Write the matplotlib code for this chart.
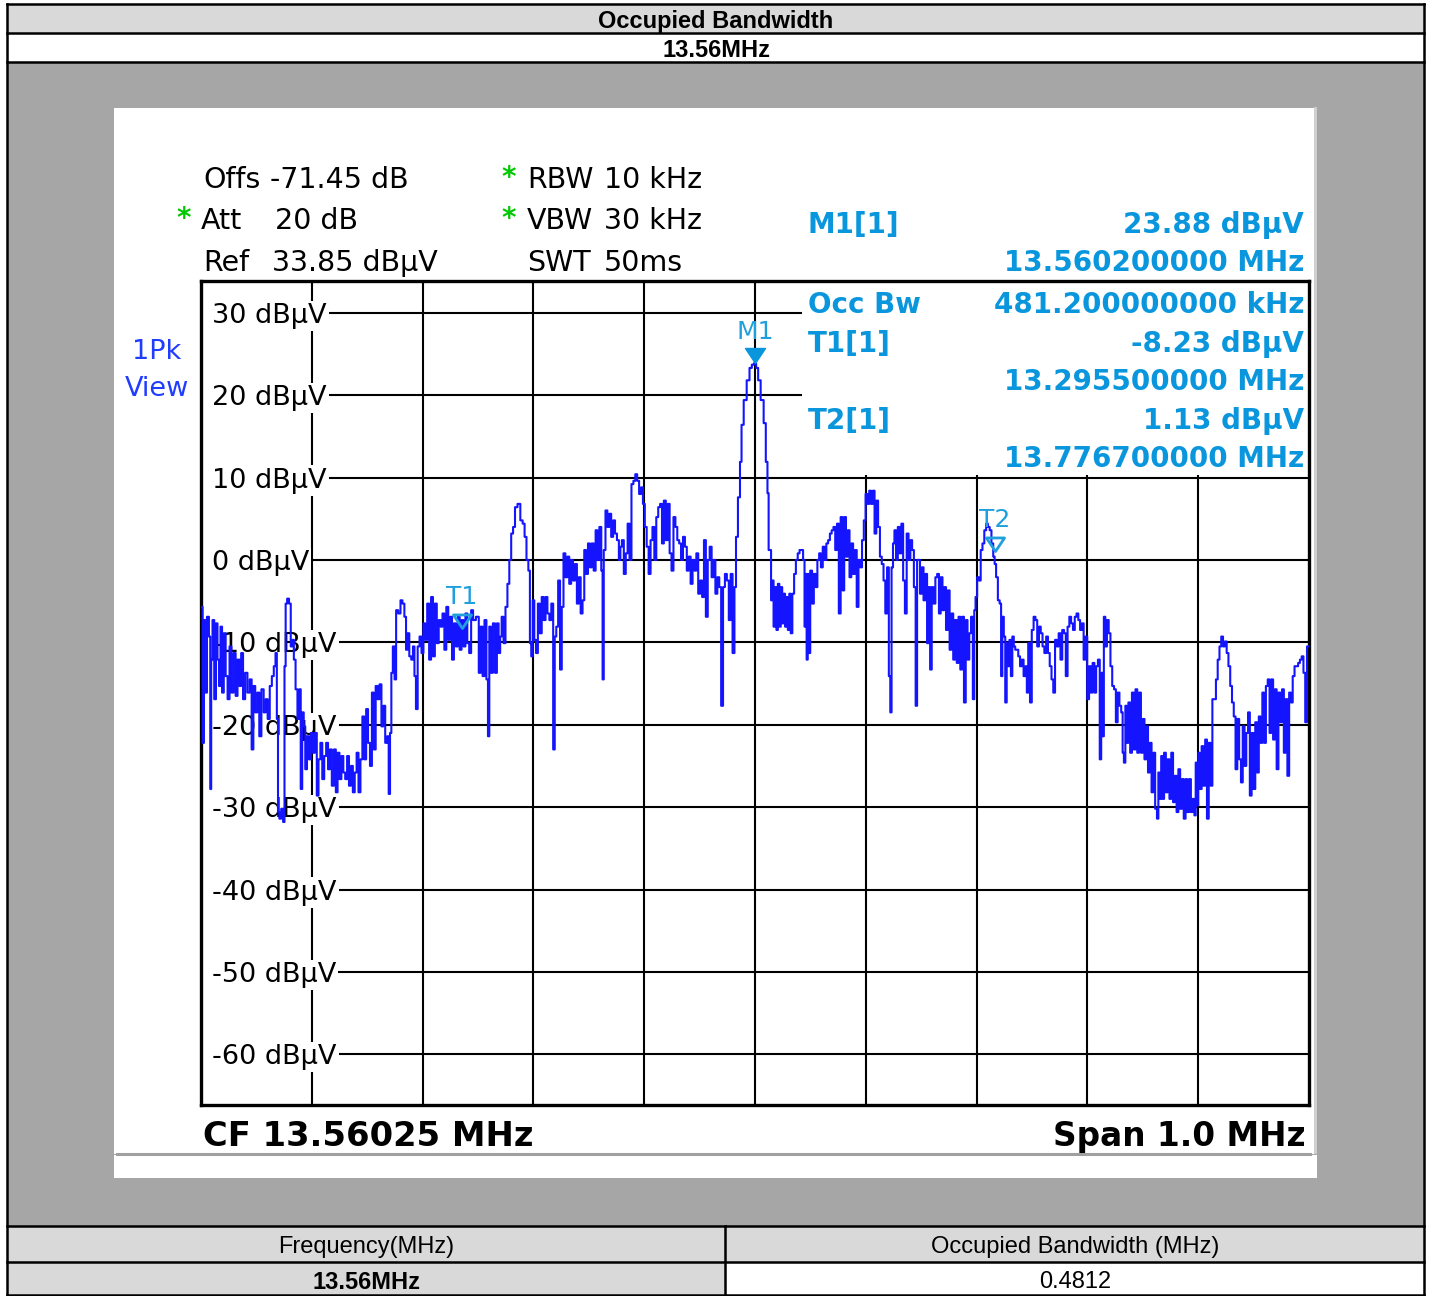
import numpy as np
import matplotlib.pyplot as plt
import matplotlib.transforms as mtransforms
from matplotlib.patches import Rectangle
from matplotlib.path import Path

# analyzer settings
center_mhz = 13.56025
span_mhz = 1.0
ref_level = 33.85
range_db = 100.0
level_ticks = [30, 20, 10, 0, -10, -20, -30, -40, -50, -60]

# trace, split in three parts: offset from CF in kHz, level in dBuV
left_offsets_khz = [
    -498.9, -498.2, -496.5, -495.5, -493.7, -492.0, -491.3, -490.3, -488.9, -487.2,
    -485.8, -484.4, -483.1, -481.7, -480.3, -478.6, -476.9, -475.1, -473.4, -471.7,
    -469.6, -467.9, -466.2, -464.4, -463.1, -461.0, -459.3, -456.9, -455.2, -453.4,
    -452.1, -450.0, -448.3, -446.5, -444.5, -442.4, -440.7, -439.0, -436.9, -435.2,
    -433.4, -432.1, -431.0, -430.0, -428.6, -426.6, -425.2, -424.1, -423.1, -421.4,
    -419.7, -418.3, -416.9, -415.5, -413.8, -412.1, -410.7, -409.3, -408.0, -406.6,
    -405.2, -403.5, -401.8, -400.0, -398.3, -396.2, -394.8, -393.1, -391.4, -389.7,
    -387.9, -386.2, -384.5, -382.8, -381.1, -379.0, -377.6, -375.9, -374.2, -372.4,
    -370.7, -369.0, -367.3, -365.6, -363.8, -362.1, -360.4, -358.7, -357.0, -355.2,
    -353.5, -351.8, -350.1, -348.4, -346.6, -344.9, -343.2, -341.5, -339.8, -338.0,
    -336.3, -334.6, -332.9, -331.1, -330.1, -328.7, -327.7, -326.0, -324.6, -323.2,
    -320.8, -319.1, -317.3, -315.6, -314.3, -312.9, -311.1, -309.4, -308.0, -306.7,
    -305.3, -303.6, -301.9, -300.1, -298.4, -296.7, -295.0, -293.2, -291.5, -289.8,
    -288.1, -286.3, -284.6, -282.9, -281.2, -279.5, -277.7, -276.0, -274.3, -272.6,
    -270.9, -269.1, -267.4, -265.7, -264.0, -262.2, -260.5, -258.8, -257.1, -255.3,
    -253.6, -250.2, -248.4, -246.7, -245.0, -243.3, -241.5, -240.5, -239.1, -237.4,
    -235.7, -233.6, -232.3, -230.5, -229.5, -227.8, -226.1, -224.3, -222.6, -220.9,
    -219.2, -217.5, -215.7, -213.0, -210.6, -208.8, -207.1, -205.4, -203.7, -202.6,
    -201.3, -199.9, -198.5, -196.8, -195.1, -193.4, -191.6, -189.9, -188.2, -186.5,
    -184.7, -183.0, -181.3, -180.2, -178.5, -176.8, -175.1, -173.7, -172.0, -170.3,
    -168.5, -166.8, -165.1, -163.4, -161.6, -159.9, -158.2, -156.5, -154.8, -153.4,
    -151.6, -149.9, -148.2, -146.5, -144.7, -143.0, -141.3, -139.6, -137.9, -137.2,
    -135.8, -134.1, -132.4, -130.7, -128.9, -127.2, -125.5, -123.7, -122.0, -121.0,
    -119.3, -117.5, -115.8, -114.1, -112.4, -110.6, -108.9, -107.2, -105.5, -103.7,
    -102.0, -100.3, -98.6, -96.9, -95.1, -93.4, -91.7, -90.0, -88.2, -86.5,
    -84.8, -83.1, -81.4, -79.6, -77.9, -76.2, -74.5, -72.7, -71.0, -69.3,
    -67.6, -65.9, -64.1, -62.4, -60.7, -59.0, -57.2, -55.5, -53.8, -52.1,
    -50.4, -48.6, -46.9, -45.2, -43.5, -41.8, -40.0, -38.3, -36.6, -34.9,
    -33.1, -31.4, -29.7, -28.0, -26.3, -24.5, -22.8, -21.1, -19.4, -17.7,
    -16.6, -14.2,
]
left_levels = [
    -5.7, -22.2, -7.3, -16.1, -6.9, -9.3, -27.8, -12.1, -7.3, -16.9,
    -7.7, -12.1, -15.3, -8.1, -16.1, -8.9, -14.1, -16.9, -10.5, -16.1,
    -11.3, -16.5, -12.1, -15.3, -11.3, -16.9, -13.7, -16.1, -14.5, -23.0,
    -15.3, -18.5, -16.1, -21.4, -15.7, -18.5, -16.9, -19.3, -15.3, -14.1,
    -12.9, -11.3, -19.3, -30.6, -31.4, -30.2, -31.8, -12.9, -5.3, -4.7,
    -5.3, -10.5, -9.7, -12.1, -15.7, -19.3, -15.7, -27.8, -18.5, -20.2,
    -25.4, -21.4, -24.2, -21.0, -23.4, -21.0, -28.6, -24.2, -22.2, -26.6,
    -23.8, -22.2, -25.4, -23.0, -27.4, -23.0, -28.2, -23.4, -26.6, -23.8,
    -25.8, -26.6, -23.8, -27.4, -25.0, -28.2, -25.8, -23.4, -28.2, -24.2,
    -19.0, -24.2, -18.1, -22.2, -25.0, -16.1, -23.0, -15.3, -16.9, -15.1,
    -20.2, -17.7, -22.2, -21.4, -28.4, -21.0, -13.7, -10.5, -14.5, -6.1,
    -6.5, -4.9, -5.3, -6.9, -10.9, -8.9, -11.7, -12.1, -10.5, -14.1,
    -18.1, -10.5, -9.3, -11.3, -7.7, -9.7, -5.3, -12.1, -4.5, -11.7,
    -5.3, -10.1, -7.3, -8.1, -6.5, -10.9, -5.7, -9.7, -6.9, -12.1,
    -7.7, -10.5, -6.9, -10.9, -7.3, -10.5, -6.5, -10.1, -11.3, -6.1,
    -7.3, -6.9, -13.7, -8.1, -14.1, -7.3, -14.5, -21.4, -8.1, -13.7,
    -7.7, -13.7, -7.7, -11.3, -9.3, -6.9, -10.1, -5.7, -2.9, 0.0,
    3.2, 4.0, 6.4, 6.8, 4.8, 4.4, 2.8, 0.0, -1.3, -10.1,
    -11.7, -4.9, -9.7, -11.3, -5.3, -8.9, -4.5, -7.3, -4.5, -6.5,
    -7.3, -5.3, -23.0, -9.3, -8.1, -2.5, -13.3, -5.7, 0.8, -2.1,
    0.4, -2.9, 0.0, -2.5, -0.5, -5.3, -2.1, -6.5, -4.9, 1.2,
    -1.7, 2.0, -0.9, 2.0, -1.3, 3.6, 0.0, 4.0, -1.3, -14.5,
    1.2, 6.0, 4.0, 5.6, 2.8, 4.8, 3.2, 2.4, 0.0, 1.6,
    2.4, -1.7, 0.8, 4.4, 0.0, 9.2, 9.6, 10.4, 9.6, 8.0,
    8.8, 6.8, 4.0, 1.6, -1.7, 2.4, 4.0, 0.0, 5.2, 6.4,
    6.8, 2.0, 7.2, 2.4, 6.8, 0.8, -1.3, 5.2, 4.0, 2.4,
    2.0, 0.0, 2.8, 1.6, -1.3, 0.4, -2.9, 0.0, -1.3, 0.8,
    -4.1, -2.5, -4.5, 2.4, -6.9, 0.0, 1.6, -2.1, 0.0, -4.1,
    -2.1, -3.3, -17.7, -3.3, -1.7, -2.5, -7.3, -1.7, -11.3, -3.3,
    2.8, 7.6,
]

peak_offsets_khz = [-12.9, -11.4, -9.0, -6.0, -3.9, -1.8, -0.05, 2.1, 3.6, 6.6, 9.0, 10.5, 12.0]
peak_levels = [11.9, 16.4, 19.4, 21.8, 23.3, 23.7, 23.88, 23.3, 21.8, 19.4, 16.6, 11.9, 8.1]

right_offsets_khz = [
    12.6, 14.2, 14.8, 16.1, 17.4, 18.7, 20.0, 21.3, 22.6, 23.9,
    25.2, 26.5, 27.7, 29.0, 30.3, 31.6, 32.9, 34.5, 36.1, 37.7,
    39.4, 41.0, 42.6, 44.2, 45.2, 46.1, 47.1, 48.1, 49.0, 50.7,
    52.3, 53.9, 55.5, 57.1, 58.7, 60.3, 62.0, 63.6, 65.2, 66.8,
    68.4, 70.0, 71.6, 73.2, 74.8, 76.5, 78.1, 79.7, 81.3, 82.9,
    84.5, 86.1, 87.7, 89.4, 91.0, 92.6, 94.2, 95.8, 97.4, 99.0,
    100.6, 102.3, 103.9, 105.5, 107.1, 108.7, 110.3, 111.9, 113.6, 115.2,
    116.8, 118.4, 120.0, 121.6, 122.6, 123.9, 125.2, 126.5, 128.1, 129.7,
    131.3, 132.9, 134.5, 136.1, 137.7, 139.4, 141.0, 142.6, 144.2, 145.8,
    146.8, 148.1, 149.7, 151.3, 152.9, 154.5, 156.1, 157.4, 158.7, 160.3,
    162.0, 163.6, 165.2, 166.8, 168.4, 170.0, 171.6, 173.2, 174.8, 176.5,
    178.1, 179.7, 181.3, 182.9, 184.5, 186.1, 187.8, 189.4, 191.0, 192.6,
    194.2, 195.8, 197.4, 198.4, 199.7, 201.3, 202.9, 204.5, 206.1, 207.8,
    209.4, 211.0, 212.6, 214.2, 215.8, 216.8, 218.4, 220.0, 221.6, 222.6,
    223.9, 225.2, 226.5, 227.8, 229.0, 230.3, 231.6, 232.9, 234.2, 235.5,
    236.8, 238.4, 240.0, 241.6, 243.2, 244.9, 245.8, 247.4, 249.0, 250.6,
    252.3, 253.9, 255.5, 257.1, 258.7, 260.3, 262.0, 263.6, 265.2, 266.8,
    268.4, 270.0, 271.6, 273.2, 274.9, 276.5, 278.1, 279.7, 281.3, 282.9,
    284.5, 286.1, 287.8, 289.4, 291.0, 292.6, 294.2, 295.8, 297.4, 299.0,
    300.7, 302.3, 303.9, 305.5, 307.1, 308.7, 310.3, 312.0, 312.9, 314.2,
    315.5, 316.8, 318.4, 320.0, 321.6, 323.2, 324.9, 326.5, 328.1, 329.7,
    331.3, 332.3, 333.6, 334.9, 336.2, 337.8, 339.4, 341.0, 342.6, 344.2,
    345.8, 347.5, 349.1, 350.7, 352.3, 353.9, 355.5, 357.1, 358.7, 360.3,
    362.0, 363.6, 364.5, 365.8, 367.4, 368.4, 370.0, 371.6, 373.2, 374.9,
    376.5, 378.1, 379.7, 381.3, 382.9, 384.5, 386.1, 387.8, 389.4, 391.0,
    392.6, 394.2, 395.8, 397.4, 398.1, 399.4, 400.7, 402.3, 403.9, 405.5,
    407.1, 408.7, 410.3, 412.0, 413.6, 415.2, 416.8, 418.4, 420.0, 421.6,
    423.2, 424.9, 426.5, 428.1, 429.7, 431.3, 432.9, 434.5, 436.1, 437.8,
    439.4, 441.0, 442.6, 444.2, 445.8, 447.4, 449.0, 450.7, 452.3, 453.9,
    455.5, 457.1, 458.7, 460.3, 461.9, 463.6, 465.2, 466.8, 468.4, 470.0,
    471.6, 473.2, 474.9, 476.5, 478.1, 479.7, 481.3, 482.9, 484.5, 486.1,
    487.8, 489.4, 491.0, 492.6, 494.2, 495.8, 497.4, 499.0,
]
right_levels = [
    1.2, 1.2, -4.9, -2.5, -8.1, -3.3, -8.5, -2.9, -8.1, -3.3,
    -7.7, -4.1, -8.1, -4.5, -8.5, -4.1, -8.9, -4.1, -1.7, 0.0,
    0.8, 1.2, 1.2, 0.0, -8.1, -1.7, -12.1, -1.7, -11.3, -1.3,
    -5.3, -1.7, -3.3, 0.0, 0.8, -0.9, 1.6, 0.0, 2.0, 2.4,
    3.2, 3.6, 4.0, 1.2, 4.4, -6.5, 5.2, -3.7, 5.2, 0.4,
    3.6, -2.1, 2.0, -1.7, 1.2, -5.7, 0.0, -0.9, 2.4, 4.8,
    8.0, 6.8, 8.4, 6.8, 8.4, 3.2, 7.2, 4.0, 0.4, -0.5,
    -2.5, -6.5, -0.9, -14.1, -18.5, -0.9, 2.0, 3.6, 0.0, 4.0,
    0.8, 4.4, -2.5, -6.5, 3.2, 0.0, 2.4, 1.2, -3.3, -17.7,
    0.0, 0.0, -4.1, -0.9, -4.9, -1.7, -10.1, -3.3, -13.3, -3.3,
    -5.3, -2.1, -1.7, -6.5, -2.1, -6.1, -3.3, -8.5, -3.7, -10.9,
    -6.5, -12.1, -7.3, -12.5, -6.9, -13.3, -6.9, -17.3, -7.3, -12.1,
    -8.9, -6.9, -16.9, -6.1, -4.5, -2.1, -2.5, 1.2, 2.0, 3.6,
    4.4, 4.0, 3.6, 2.0, 0.4, -0.5, -2.1, -4.9, -5.3, -14.1,
    -6.9, -9.3, -17.3, -10.1, -12.9, -9.7, -14.1, -9.3, -10.5, -10.9,
    -10.9, -11.7, -12.9, -12.1, -14.1, -12.9, -16.1, -10.1, -17.3, -8.5,
    -6.9, -7.3, -10.5, -8.1, -8.9, -10.5, -11.3, -9.3, -11.3, -12.9,
    -14.5, -16.1, -9.7, -10.5, -8.9, -12.1, -8.5, -8.9, -14.1, -8.1,
    -6.9, -7.7, -8.5, -6.9, -6.5, -7.3, -8.5, -7.7, -12.1, -9.3,
    -16.9, -12.9, -16.1, -12.5, -16.1, -12.9, -12.1, -24.2, -13.7, -21.4,
    -6.9, -10.5, -7.3, -8.9, -12.9, -15.3, -15.7, -19.7, -16.1, -17.7,
    -18.5, -23.4, -24.6, -17.7, -22.2, -17.3, -23.4, -16.1, -23.0, -15.7,
    -23.4, -16.1, -23.4, -19.3, -24.2, -20.2, -25.8, -22.2, -28.2, -23.4,
    -30.2, -31.4, -25.8, -29.0, -23.8, -29.0, -23.4, -28.2, -24.2, -29.0,
    -23.4, -29.4, -26.2, -30.6, -25.4, -30.2, -26.6, -31.4, -26.6, -30.6,
    -26.6, -30.6, -29.0, -31.0, -24.6, -29.8, -23.4, -27.8, -22.6, -27.4,
    -21.8, -31.4, -22.2, -27.4, -16.9, -16.9, -14.5, -12.1, -10.5, -9.3,
    -10.5, -9.9, -11.3, -12.9, -15.3, -17.3, -19.0, -25.4, -19.3, -24.2,
    -27.0, -20.2, -25.0, -21.0, -18.5, -28.6, -21.0, -27.8, -19.7, -25.8,
    -19.0, -22.2, -16.1, -22.2, -15.3, -14.5, -21.0, -14.5, -21.8, -15.7,
    -25.4, -16.1, -19.7, -15.7, -23.4, -16.9, -26.2, -16.1, -17.3, -14.1,
    -12.9, -12.9, -12.5, -12.1, -11.7, -13.7, -19.7, -10.5,
]

# markers
m1_freq, m1_level = 13.5602, 23.88
t1_freq, t1_level = 13.2955, -8.23
t2_freq, t2_level = 13.7767, 1.13
occ_bw_khz = 481.2

offsets = np.array(left_offsets_khz + peak_offsets_khz + right_offsets_khz)
levels = np.array(left_levels + peak_levels + right_levels)
freqs = center_mhz + offsets / 1000.0

TRACE = '#1414ff'
MARK = '#0a96dc'
GREEN = '#00c800'
FONT = 'DejaVu Sans'
TABLE_FONT = 'Liberation Sans'

W, H = 1432, 1296
fig = plt.figure(figsize=(W / 100, H / 100), dpi=100)


def pixel_layer(z):
    # full-figure axes in pixels, origin at top left
    a = fig.add_axes([0, 0, 1, 1])
    a.set_xlim(0, W)
    a.set_ylim(H, 0)
    a.axis('off')
    a.set_zorder(z)
    a.patch.set_alpha(0)
    return a


page = pixel_layer(0)
front = pixel_layer(5)

page.add_patch(Rectangle((7, 62), 1417, 1164, fc='#a6a6a6', ec='none'))
page.add_patch(Rectangle((7, 4), 1417, 29, fc='#d9d9d9', ec='none'))
page.add_patch(Rectangle((7, 1226), 1417, 36, fc='#d9d9d9', ec='none'))
page.add_patch(Rectangle((7, 1262), 718, 34, fc='#d9d9d9', ec='none'))
page.add_patch(Rectangle((114, 108), 1200, 1046, fc='white', ec='none'))
page.add_patch(Rectangle((114, 1155), 1203, 23, fc='white', ec='none'))
page.plot([1315, 1315], [108, 1152], color='#d2d2d2', lw=2)
page.plot([117, 1310], [1153.5, 1153.5], color='#a0a0a0', lw=2.2)

for y in [4, 33, 62, 1226, 1262, 1295]:
    page.plot([7, 1424], [y, y], color='black', lw=1.8, solid_capstyle='projecting')
for x in [7, 1424]:
    page.plot([x, x], [4, 1296], color='black', lw=1.8)
page.plot([725, 725], [1226, 1296], color='black', lw=1.8)

tkw = dict(ha='center', va='center_baseline', fontsize=17, family=TABLE_FONT)
page.text(716, 19, 'Occupied Bandwidth', fontweight='bold', **tkw)
page.text(716, 48, '13.56MHz', fontweight='bold', **tkw)
page.text(366, 1245, 'Frequency(MHz)', **tkw)
page.text(1075, 1245, 'Occupied Bandwidth (MHz)', **tkw)
page.text(366, 1280, '13.56MHz', fontweight='bold', **tkw)
page.text(1075, 1280, f'{occ_bw_khz / 1000:.4f}', **tkw)

# instrument settings block
skw = dict(va='center_baseline', fontsize=20.5, family=FONT, color='black')
star = dict(color=GREEN, fontsize=20, fontweight='bold', va='center_baseline', family=FONT)
page.text(203, 177, 'Offs', **skw)
page.text(270, 177, '-71.45 dB', **skw)
page.text(176, 216, '*', **star)
page.text(201, 218, 'Att', **skw)
page.text(275, 218, '20 dB', **skw)
page.text(203, 260, 'Ref', **skw)
page.text(272, 260, f'{ref_level:.2f} dBμV', **skw)
page.text(501, 175, '*', **star)
page.text(527, 177, 'RBW', **skw)
page.text(604, 177, '10 kHz', **skw)
page.text(501, 216, '*', **star)
page.text(527, 218, 'VBW', **skw)
page.text(604, 218, '30 kHz', **skw)
page.text(527, 260, 'SWT', **skw)
page.text(604, 260, '50ms', **skw)
page.text(157, 349, '1Pk', ha='center', va='center_baseline', fontsize=19.5, family=FONT, color='#1f3cff')
page.text(157, 386, 'View', ha='center', va='center_baseline', fontsize=19.5, family=FONT, color='#1f3cff')

# marker table, partly over the grid
mkw = dict(va='center_baseline', fontsize=20, fontweight='bold', family=FONT, color=MARK)
rows = [
    (222, 'M1[1]', f'{m1_level:.2f} dBμV'),
    (260, '', f'{m1_freq:.9f} MHz'),
    (302, 'Occ Bw', f'{occ_bw_khz:.9f} kHz'),
    (341, 'T1[1]', f'{t1_level:.2f} dBμV'),
    (379, '', f'{t1_freq:.9f} MHz'),
    (418, 'T2[1]', f'{t2_level:.2f} dBμV'),
    (456, '', f'{t2_freq:.9f} MHz'),
]
for y, name, value in rows:
    if name:
        front.text(808, y, name, ha='left', **mkw)
    front.text(1304, y, value, ha='right', **mkw)

page.text(203, 1133, f'CF {center_mhz:.5f} MHz', va='center_baseline', fontsize=24.3,
          fontweight='bold', family=FONT)
page.text(1306, 1133, f'Span {span_mhz:.1f} MHz', ha='right', va='center_baseline', fontsize=23.6,
          fontweight='bold', family=FONT)

# spectrum display
ax = fig.add_axes([201 / W, 1 - 1105 / H, 1108 / W, 824 / H])
ax.set_zorder(2)
ax.set_facecolor('white')
x0, x1 = center_mhz - span_mhz / 2, center_mhz + span_mhz / 2
y0, y1 = ref_level - range_db, ref_level
ax.set_xlim(x0, x1)
ax.set_ylim(y0, y1)
ax.set_xticks([])
ax.set_yticks([])
for sp in ax.spines.values():
    sp.set_linewidth(2.4)
    sp.set_color('black')

div = span_mhz / 10
table_left = center_mhz + 0.0425  # marker table covers the upper right of the grid
for k in range(1, 10):
    f = x0 + k * div
    top = y1 if k <= 5 else 10.3
    ax.vlines(f, y0, top, color='black', lw=1.5, zorder=1)
for lev in level_ticks:
    right = table_left if lev >= 20 else x1
    ax.hlines(lev, x0 + div, right, color='black', lw=1.5, zorder=1)

blend = mtransforms.blended_transform_factory(ax.transAxes, ax.transData)
for lev in level_ticks:
    ax.text(0.0099, lev, f'{lev} dBμV', transform=blend, ha='left', va='center_baseline',
            fontsize=19.5, family=FONT, zorder=3,
            bbox=dict(fc='white', ec='none', pad=1.5))

ax.plot(freqs, levels, color=TRACE, lw=1.5, drawstyle='steps-mid', zorder=4)

# triangle with its tip on the marker position
tri = Path([(-1, 1.5), (1, 1.5), (0, 0), (-1, 1.5)],
           [Path.MOVETO, Path.LINETO, Path.LINETO, Path.CLOSEPOLY])
ax.plot(m1_freq, m1_level, marker=tri, ms=21.6, color=MARK, mec=MARK, zorder=5)
for f, lev in [(t1_freq, t1_level), (t2_freq, t2_level)]:
    ax.plot(f, lev, marker=tri, ms=19.5, mfc='none', mec='#1fa0dc', mew=2.0, zorder=5)
for name, f, lev in [('M1', m1_freq, m1_level), ('T1', t1_freq, t1_level), ('T2', t2_freq, t2_level)]:
    ax.annotate(name, (f, lev), xytext=(0, 24), textcoords='offset points', ha='center',
                va='center_baseline', fontsize=18, family=FONT, color='#1fa0dc', zorder=5,
                annotation_clip=False)

fig.savefig('out.png', dpi=100, facecolor='white')
